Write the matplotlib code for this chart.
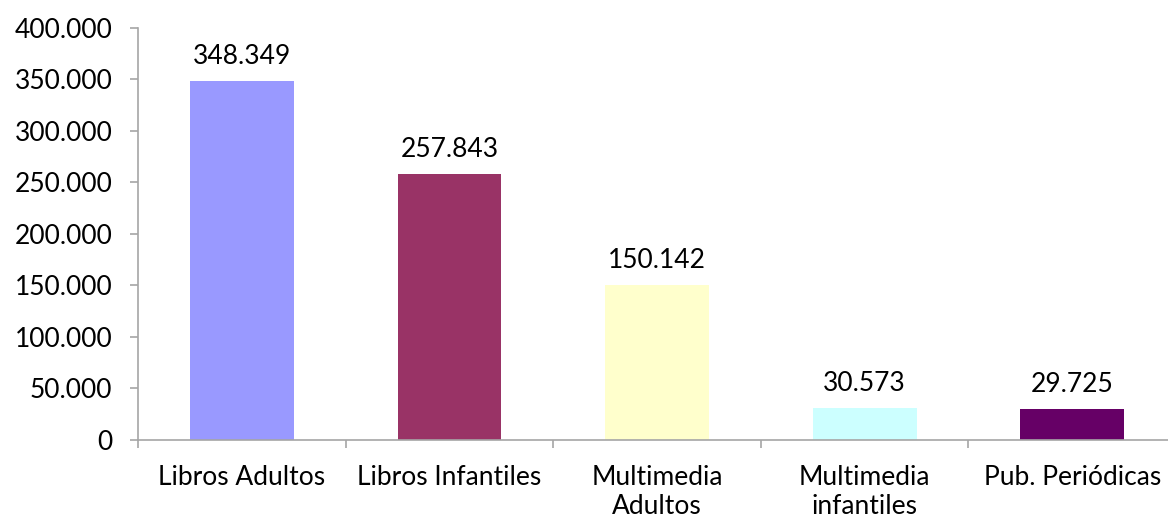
import matplotlib
matplotlib.use("Agg")
import matplotlib.pyplot as plt
from matplotlib.ticker import FuncFormatter, FixedLocator

categories = ["Libros Adultos", "Libros Infantiles", "Multimedia\nAdultos", "Multimedia\ninfantiles", "Pub. Periódicas"]
values = [348349, 257843, 150142, 30573, 29725]
colors = ["#9999FF", "#993366", "#FFFFCC", "#CCFFFF", "#660066"]
yticks = [0, 50000, 100000, 150000, 200000, 250000, 300000, 350000, 400000]

def fmt(v):
    return f"{int(v):,}".replace(",", ".")

plt.rcParams['font.family'] = ['Lato', 'DejaVu Sans']
fig = plt.figure(figsize=(11.68, 5.18), dpi=100)
ax = fig.add_axes([0.1182, 0.1506, 0.8887, 0.7954])
x = list(range(len(categories)))
ax.bar(x, values, width=0.50, color=colors, zorder=2)
for xi, v in zip(x, values):
    ax.annotate(fmt(v), (xi, v), xytext=(0, 9), textcoords="offset points",
                ha="center", va="bottom", fontsize=19, color="black")
ax.set_xlim(-0.5, 4.5)
ax.set_ylim(0, 400000)
ax.set_yticks(yticks)
ax.yaxis.set_major_formatter(FuncFormatter(lambda v, p: fmt(v)))
ax.set_xticks(x)
ax.set_xticklabels(categories, fontsize=19, linespacing=1.2)
ax.xaxis.set_minor_locator(FixedLocator([i - 0.5 for i in range(len(categories) + 1)]))
ax.tick_params(axis="x", which="major", length=0, pad=18)
ax.tick_params(axis="x", which="minor", length=6, width=1.2, color="#A6A6A6", direction="out")
ax.tick_params(axis="y", length=6, width=1.2, color="#A6A6A6", labelsize=19, pad=12.5)
for s in ["top", "right"]:
    ax.spines[s].set_visible(False)
for s in ["left", "bottom"]:
    ax.spines[s].set_color("#A6A6A6")
    ax.spines[s].set_linewidth(1.2)
fig.savefig("out.png", dpi=100)
